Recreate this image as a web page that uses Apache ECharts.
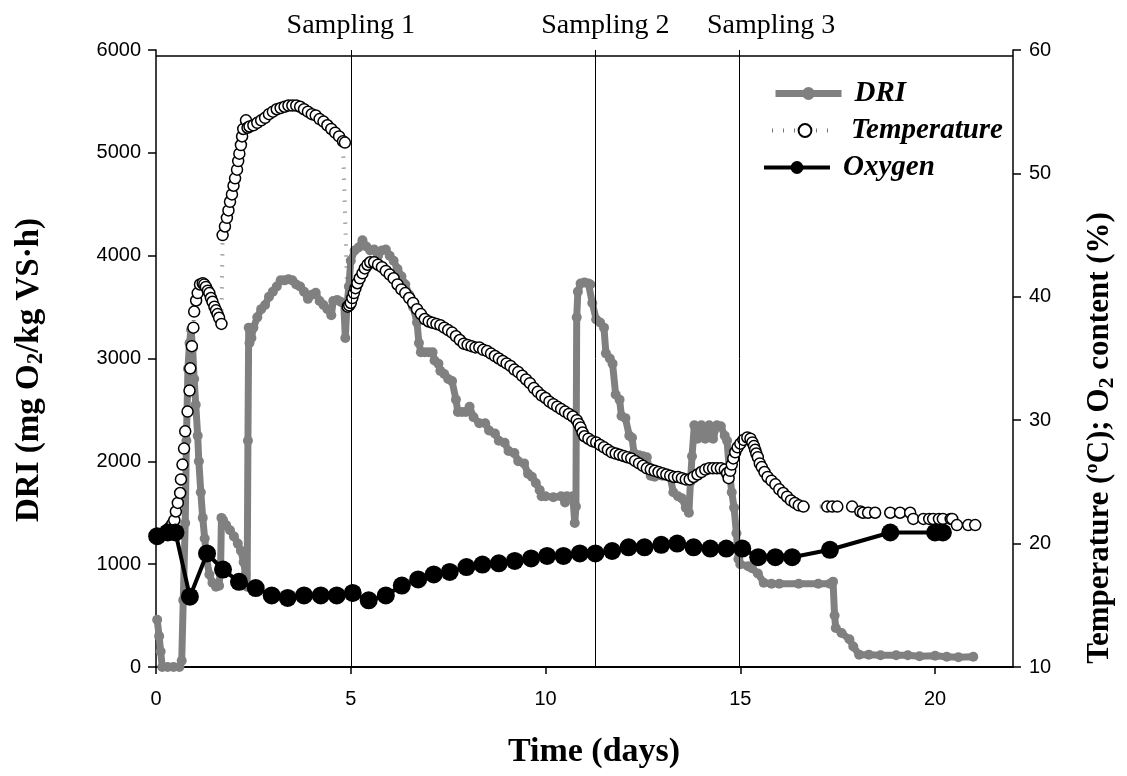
<!DOCTYPE html>
<html>
<head>
<meta charset="utf-8">
<script src="https://cdn.jsdelivr.net/npm/echarts@6/dist/echarts.min.js"></script>
<style>
html,body{margin:0;padding:0;background:#fff;}
#chart{width:1127px;height:776px;}
</style>
</head>
<body>
<div id="chart"></div>
<script>
// ---- DATA ----
const xTicks = [0, 5, 10, 15, 20];
const samplingDays = [5, 11.28, 14.97];
const samplingLabels = ['Sampling 1', 'Sampling 2', 'Sampling 3'];

const driDays = [0.03,0.08,0.12,0.16,0.3,0.45,0.6,0.66,0.7,0.75,0.78,0.82,0.86,0.9,0.94,0.98,1.02,1.07,1.1,1.15,1.2,1.25,1.3,1.37,1.45,1.54,1.62,1.66,1.68,1.72,1.8,1.9,2.0,2.1,2.18,2.25,2.3,2.34,2.36,2.38,2.4,2.45,2.5,2.6,2.7,2.8,2.9,3.0,3.1,3.2,3.3,3.4,3.5,3.6,3.7,3.8,3.9,4.0,4.1,4.2,4.3,4.4,4.5,4.55,4.65,4.75,4.82,4.86,4.9,4.95,5.0,5.1,5.2,5.3,5.4,5.5,5.6,5.7,5.8,5.9,6.0,6.1,6.2,6.3,6.4,6.5,6.6,6.7,6.75,6.8,6.9,7.0,7.1,7.15,7.25,7.3,7.4,7.5,7.6,7.7,7.75,7.85,7.95,8.05,8.15,8.3,8.45,8.55,8.7,8.8,8.95,9.05,9.2,9.3,9.45,9.55,9.65,9.75,9.85,9.9,10.0,10.2,10.4,10.5,10.55,10.7,10.75,10.78,10.8,10.83,10.9,11.0,11.1,11.15,11.2,11.3,11.4,11.5,11.55,11.65,11.72,11.8,11.9,11.95,12.05,12.15,12.22,12.27,12.4,12.5,12.6,12.7,12.8,13.0,13.2,13.28,13.4,13.5,13.6,13.68,13.72,13.76,13.82,13.9,14.0,14.1,14.2,14.3,14.4,14.5,14.6,14.66,14.72,14.78,14.84,14.9,14.95,15.0,15.2,15.3,15.45,15.6,15.8,16.0,16.5,17.0,17.3,17.38,17.42,17.45,17.6,17.8,17.9,18.05,18.3,18.6,19.0,19.3,19.6,20.0,20.3,20.6,20.98];
const driValues = [460,300,150,0,0,0,0,60,650,1400,2200,2900,3150,3280,3100,2800,2550,2250,2000,1700,1450,1250,1050,900,820,780,790,1000,1450,1430,1380,1330,1270,1200,1130,1020,900,780,2200,3300,3150,3200,3300,3400,3480,3520,3600,3650,3700,3760,3760,3770,3760,3720,3700,3650,3580,3620,3640,3560,3520,3480,3420,3560,3570,3550,3540,3200,3500,3700,3950,4050,4080,4150,4090,4050,4060,4000,4050,4060,4000,3950,3870,3800,3720,3620,3500,3350,3150,3060,3060,3060,3060,2980,2950,2880,2850,2800,2780,2600,2480,2480,2480,2530,2430,2370,2370,2300,2270,2200,2180,2100,2080,2000,1980,1880,1850,1790,1720,1660,1660,1650,1660,1600,1660,1660,1400,1560,3400,3650,3730,3740,3730,3720,3540,3380,3350,3300,3050,3000,2950,2650,2600,2440,2420,2250,2230,2080,2060,2050,2040,1860,1850,1860,1850,1700,1660,1640,1550,1500,1800,2050,2350,2220,2350,2220,2350,2220,2350,2340,2250,2200,1900,1700,1550,1300,1050,1000,980,960,910,820,810,810,810,810,810,830,500,380,330,270,200,120,120,115,115,115,105,110,100,95,100];

const tempDays = [0.35,0.42,0.47,0.51,0.56,0.62,0.64,0.68,0.72,0.75,0.81,0.86,0.88,0.92,0.96,0.98,1.03,1.07,1.13,1.2,1.24,1.28,1.33,1.37,1.41,1.45,1.5,1.54,1.58,1.62,1.68,
1.71,1.77,1.82,1.86,1.9,1.95,1.99,2.03,2.08,2.11,2.14,2.18,2.21,2.24,2.31,2.35,2.4,2.5,2.6,2.7,2.8,2.9,3.0,3.1,3.2,3.3,3.4,3.5,3.6,3.7,3.8,3.9,4.0,4.1,4.2,4.3,4.4,4.5,4.6,4.7,4.8,4.85,
4.92,4.96,5.0,5.04,5.08,5.12,5.17,5.23,5.3,5.36,5.43,5.5,5.6,5.7,5.8,5.9,6.0,6.1,6.2,6.3,6.4,6.5,6.6,6.7,6.8,6.9,7.0,7.1,7.2,7.3,7.4,7.5,7.6,7.7,7.8,7.9,8.0,8.1,8.2,8.3,8.4,8.5,8.6,8.7,8.8,8.9,9.0,9.1,9.2,9.3,9.4,9.5,9.6,9.7,9.8,9.9,10.0,10.1,10.2,10.3,10.4,10.5,10.6,10.7,10.8,10.85,10.9,10.95,11.0,11.1,11.2,11.3,11.4,11.5,11.6,11.7,11.8,11.9,12.0,12.1,12.2,12.3,12.4,12.5,12.6,12.7,12.8,12.9,13.0,13.1,13.2,13.3,13.4,13.5,13.6,13.7,13.8,13.9,14.0,14.1,14.2,14.3,14.4,14.5,14.6,14.66,14.7,14.74,14.78,14.82,14.87,14.93,15.0,15.08,15.18,15.26,15.31,15.35,15.38,15.41,15.45,15.5,15.55,15.62,15.7,15.8,15.9,16.0,16.1,16.2,16.3,16.4,16.5,16.62,
17.23,17.36,17.49,17.87,18.08,18.15,18.28,18.46,18.85,19.1,19.36,19.44,19.7,19.85,19.95,20.1,20.2,20.4,20.44,20.56,20.85,21.03];
const tempValues = [21.3,21.6,21.9,22.6,23.3,24.1,25.2,26.4,27.7,29.1,30.7,32.4,34.2,36.0,37.5,38.8,39.7,40.3,41.0,41.1,41.0,40.8,40.5,40.3,39.9,39.6,39.2,38.9,38.6,38.3,37.8,
45.0,45.7,46.4,47.0,47.7,48.3,49.0,49.6,50.3,51.0,51.6,52.3,53.0,53.6,54.3,53.7,53.8,53.9,54.1,54.3,54.5,54.8,55.0,55.2,55.3,55.4,55.5,55.5,55.5,55.4,55.2,55.0,54.8,54.7,54.4,54.2,53.9,53.6,53.3,53.0,52.6,52.5,
39.2,39.3,39.5,39.9,40.3,40.7,41.1,41.5,41.9,42.3,42.6,42.8,42.8,42.6,42.4,42.1,41.8,41.5,41.0,40.6,40.3,39.9,39.5,39.0,38.6,38.2,38.0,37.9,37.8,37.7,37.5,37.3,37.1,36.8,36.5,36.2,36.1,36.0,35.9,35.9,35.7,35.6,35.4,35.2,35.0,34.8,34.6,34.4,34.1,33.9,33.6,33.3,33.0,32.6,32.3,32.0,31.8,31.5,31.3,31.1,30.9,30.7,30.5,30.3,30.0,29.7,29.4,29.0,28.7,28.5,28.3,28.2,28.0,27.8,27.6,27.4,27.3,27.2,27.1,27.0,26.9,26.7,26.5,26.3,26.1,26.0,25.9,25.8,25.7,25.6,25.5,25.4,25.4,25.3,25.2,25.2,25.4,25.6,25.8,26.0,26.1,26.1,26.1,26.1,26.0,25.7,25.3,25.9,26.4,26.9,27.4,27.8,28.1,28.4,28.6,28.5,28.2,27.9,27.6,27.3,27.0,26.5,26.2,25.8,25.4,25.1,24.8,24.4,24.1,23.8,23.5,23.3,23.1,23.0,
23.0,23.0,23.0,23.0,22.6,22.5,22.5,22.5,22.5,22.5,22.5,22.0,22.0,22.0,22.0,22.0,22.0,22.0,22.0,21.5,21.5,21.5];

const o2Days = [0.03,0.3,0.5,0.87,1.31,1.72,2.13,2.56,2.97,3.38,3.8,4.23,4.64,5.05,5.46,5.9,6.31,6.73,7.13,7.54,7.97,8.38,8.8,9.21,9.63,10.04,10.46,10.88,11.28,11.71,12.13,12.54,12.97,13.38,13.8,14.23,14.64,15.05,15.46,15.9,16.33,17.3,18.85,20.0,20.2];
const o2Values = [20.6,20.9,20.9,15.7,19.2,17.9,16.9,16.4,15.8,15.6,15.8,15.8,15.8,16.0,15.4,15.8,16.6,17.1,17.5,17.7,18.1,18.3,18.4,18.6,18.8,19.0,19.0,19.2,19.2,19.4,19.7,19.7,19.9,20.0,19.7,19.6,19.6,19.6,18.9,18.9,18.9,19.5,20.9,20.9,20.9];

// ---- BUILD ----
const zip = (a, b) => a.map((v, i) => [v, b[i]]);
const serif = '"Liberation Serif", "Times New Roman", serif';
const sans = '"Liberation Sans", Arial, sans-serif';
const shifts = [0, 20, 64];

const chart = echarts.init(document.getElementById('chart'), null, {renderer: 'canvas'});
const legendBase = (name, left, top) => ({
  data: [name], left: left, top: top, padding: 0, itemWidth: 66, itemHeight: 16,
  lineStyle: {width: 'inherit', type: 'inherit'},
  textStyle: {fontFamily: serif, fontSize: 29, fontWeight: 'bold', fontStyle: 'italic', color: '#000', padding: [0,0,0,8]},
  selectedMode: false
});
chart.setOption({
  animation: false,
  backgroundColor: '#fff',
  grid: {left: 156, right: 114, top: 50, bottom: 109, containLabel: false},
  legend: [legendBase('DRI', 772, 79), legendBase('Temperature', 770, 116), legendBase('Oxygen', 762, 153)],
  xAxis: {
    type: 'value', min: 0, max: 22, interval: 5,
    axisLine: {show: true, onZero: false, lineStyle: {color: '#000', width: 2}},
    axisTick: {show: true, length: 7, inside: false, customValues: xTicks, lineStyle: {color: '#000', width: 1.5}},
    axisLabel: {customValues: xTicks, margin: 22, fontFamily: sans, fontSize: 20, color: '#000'},
    splitLine: {show: false}
  },
  yAxis: [
    {type: 'value', min: 0, max: 6000, interval: 1000, position: 'left',
     axisLine: {show: true, lineStyle: {color: '#000', width: 1.5}},
     axisTick: {show: true, length: 8, lineStyle: {color: '#000', width: 1.5}},
     axisLabel: {margin: 15, fontFamily: sans, fontSize: 20, color: '#000', formatter: v => String(v)},
     splitLine: {show: false}},
    {type: 'value', min: 10, max: 60, interval: 10, position: 'right',
     axisLine: {show: true, lineStyle: {color: '#000', width: 1.5}},
     axisTick: {show: true, length: 8, lineStyle: {color: '#000', width: 1.5}},
     axisLabel: {margin: 16, fontFamily: sans, fontSize: 20, color: '#000', formatter: v => String(v)},
     splitLine: {show: false}}
  ],
  graphic: [
    {type: 'text', x: 594, y: 752, z: 100,
     style: {text: 'Time (days)', font: 'bold 34px ' + serif, fill: '#000', textAlign: 'center', textVerticalAlign: 'middle'}},
    {type: 'text', x: 29, y: 370, rotation: Math.PI / 2, z: 100,
     style: {text: '{a|DRI (mg O}{s|2}{a|/kg VS·h)}', textAlign: 'center', textVerticalAlign: 'middle',
       rich: {a: {font: 'bold 33px ' + serif, fill: '#000', height: 36},
              s: {font: 'bold 23px ' + serif, fill: '#000', padding: [15, 0, 0, 0], height: 36}}}},
    {type: 'text', x: 1100, y: 438, rotation: Math.PI / 2, z: 100,
     style: {text: '{a|Temperature (ºC); O}{s|2}{a| content (%)}', textAlign: 'center', textVerticalAlign: 'middle',
       rich: {a: {font: 'bold 31px ' + serif, fill: '#000', height: 34},
              s: {font: 'bold 22px ' + serif, fill: '#000', padding: [14, 0, 0, 0], height: 34}}}}
  ],
  series: [
    {name: 'DRI', type: 'line', yAxisIndex: 0, data: zip(driDays, driValues), z: 2,
     symbol: 'circle', symbolSize: 10, showSymbol: true, showAllSymbol: true,
     lineStyle: {color: '#808080', width: 7}, itemStyle: {color: '#808080'}},
    {name: 'Temperature', type: 'line', yAxisIndex: 1, data: zip(tempDays, tempValues), z: 3,
     symbol: 'circle', symbolSize: 11, showSymbol: true, showAllSymbol: true,
     lineStyle: {color: '#777', width: 4, type: [1, 10]},
     itemStyle: {color: '#fff', borderColor: '#000', borderWidth: 1.5}},
    {name: 'Oxygen', type: 'line', yAxisIndex: 1, data: zip(o2Days, o2Values), z: 4,
     symbol: 'circle', symbolSize: 18, showSymbol: true, showAllSymbol: true,
     lineStyle: {color: '#000', width: 4}, itemStyle: {color: '#000'},
     markLine: {
       silent: true, symbol: 'none', animation: false,
       lineStyle: {color: '#000', width: 1, type: 'solid'},
       data: samplingDays.map((d, i) => ({
         xAxis: d, name: samplingLabels[i],
         label: {show: true, position: 'end', formatter: samplingLabels[i], distance: 10,
                 fontFamily: serif, fontSize: 28, color: '#000', padding: [0, 0, 0, shifts[i]]}
       })).concat([{yAxis: 59.5, label: {show: false}, lineStyle: {width: 1.5}}])
     }}
  ]
});
</script>
</body>
</html>
